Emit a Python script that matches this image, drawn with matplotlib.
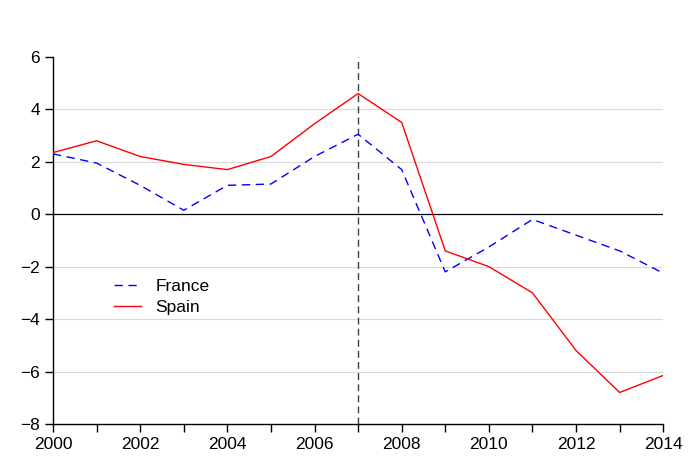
import matplotlib
matplotlib.use('Agg')
import matplotlib.pyplot as plt
import numpy as np

plt.rcParams['font.family'] = ['Liberation Sans', 'DejaVu Sans']

# Data
years = list(range(2000, 2015))
france = [2.3, 1.95, 1.1, 0.15, 1.1, 1.15, 2.2, 3.05, 1.7, -2.2, -1.25, -0.2, -0.8, -1.4, -2.25]
spain = [2.35, 2.8, 2.2, 1.9, 1.7, 2.2, 3.45, 4.6, 3.5, -1.4, -2.0, -3.0, -5.2, -6.8, -6.15]
marker_year = 2007

fig, ax = plt.subplots(figsize=(6.88, 4.70), dpi=100)
fig.subplots_adjust(left=0.077, right=0.964, bottom=0.098, top=0.879)

# horizontal grid + zero line
for yv in [-6, -4, -2, 2, 4]:
    ax.axhline(yv, color='#d9d9d9', linewidth=0.8, zorder=0)
ax.axhline(0, color='black', linewidth=0.9, zorder=1)
ax.axvline(marker_year, color='#404040', linewidth=1.0, linestyle=(0, (5, 3)), zorder=1)

ax.plot(years, france, color='blue', linewidth=1.0, linestyle=(0, (6, 4)), label='France', zorder=3)
ax.plot(years, spain, color='red', linewidth=1.0, label='Spain', zorder=3)

ax.set_xlim(2000, 2014)
ax.set_ylim(-8, 6)
ax.set_xticks(range(2000, 2015))
ax.set_xticklabels([str(y) if y % 2 == 0 else '' for y in years])
ax.set_yticks(range(-8, 7, 2))

for side in ['top', 'right']:
    ax.spines[side].set_visible(False)
ax.spines['left'].set_linewidth(1.0)
ax.spines['bottom'].set_linewidth(1.0)
ax.tick_params(axis='both', direction='out', length=5.5, width=1.0, labelsize=12.5, colors='black')
ax.tick_params(axis='x', pad=4)
ax.tick_params(axis='y', pad=4)

ax.legend(loc='upper left', bbox_to_anchor=(0.075, 0.437), frameon=False, fontsize=12.5,
          handlelength=1.55, handletextpad=0.8, labelspacing=0.3)

fig.savefig('out.png', dpi=100)
